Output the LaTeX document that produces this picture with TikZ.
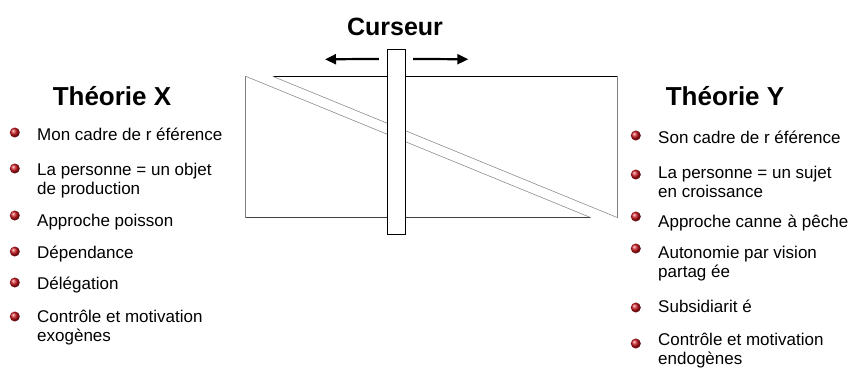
\documentclass[tikz,border=0pt]{standalone}
\usepackage{fontspec}
\setmainfont{Liberation Sans}
\definecolor{bulletred}{HTML}{c8161d}
\definecolor{framegray}{HTML}{7f7f7f}
\definecolor{diaggray}{HTML}{8c8c8c}
\usetikzlibrary{
  arrows.meta,
  positioning,
}

\begin{document}
\begin{tikzpicture}[
  x=1pt, y=-1pt,
  title/.style={font=\fontsize{26}{29}\selectfont\bfseries, inner sep=0pt},
  item/.style={font=\fontsize{17}{19}\selectfont, align=left, anchor=north west, inner sep=0pt},
  dot/.style={circle, inner sep=0pt, minimum size=10pt, shade, ball color=bulletred},
  arr/.style={-{Triangle[length=11pt, width=10pt]}, line width=2.2pt},
  side/.style={draw=framegray, line width=1pt},
  diag/.style={draw=diaggray, line width=0.6pt},
]
  \useasboundingbox (0,0) rectangle (850,367);

  % Sliding frame
  \coordinate (ltop) at (245.7,76.3);
  \coordinate (lbot) at (245.7,217.7);
  \coordinate (lend) at (591,217.7);
  \coordinate (rtop) at (272.7,76.3);
  \coordinate (rcorner) at (617.7,76.3);
  \coordinate (rbot) at (617.7,217.7);

  \draw[side] (ltop) -- (lbot);
  \draw[side, draw=black!75] (lbot) -- (lend);
  \draw[diag] (ltop) -- (lend);
  \draw[line width=1pt] (rtop) -- (rcorner);
  \draw[side] (rcorner) -- (rbot);
  \draw[diag] (rtop) -- (rbot);

  % Cursor
  \node[title, font=\fontsize{25}{28}\selectfont\bfseries] (curlabel) at (395,27) {Curseur};
  \node[draw, fill=white, line width=0.8pt, minimum width=18.4pt, minimum height=185pt, inner sep=0pt] (cursor) at (396.5,141.8) {};
  \coordinate (lhead) at (325,59.3);
  \coordinate (rhead) at (468.3,59.3);
  \draw[arr] ([xshift=-8pt, yshift=-10pt]cursor.north west) -- (lhead);
  \draw[arr] ([xshift=7pt, yshift=-10pt]cursor.north east) -- (rhead);

  % Theory X
  \node[title] (thx) at (112,96) {Théorie X};
  \node[item] (x1) at (37,127.5) {Mon cadre de r éférence};
  \node[item] (x2) at (37,162.5) {La personne = un objet\\de production};
  \node[item] (x3) at (37,213.5) {Approche poisson};
  \node[item] (x4) at (37,245.5) {Dépendance};
  \node[item] (x5) at (37,276.5) {Délégation};
  \node[item] (x6) at (37,309.5) {Contrôle et motivation\\exogènes};

  \node[dot, left=17pt of x1.north west, yshift=-5pt] (bx1) {};
  \node[dot, left=17pt of x2.north west, yshift=-6pt] (bx2) {};
  \node[dot, left=17pt of x3.north west, yshift=-2pt] (bx3) {};
  \node[dot, left=17pt of x4.north west, yshift=-6pt] (bx4) {};
  \node[dot, left=17pt of x5.north west, yshift=-6pt] (bx5) {};
  \node[dot, left=17pt of x6.north west, yshift=-7pt] (bx6) {};

  % Theory Y
  \node[title] (thy) at (725,96) {Théorie Y};
  \node[item] (y1) at (658,130.5) {Son cadre de r éférence};
  \node[item] (y2) at (658,165.5) {La personne = un sujet\\en croissance};
  \node[item] (y3) at (658,214.5) {Approche canne \hspace{1pt}à pêche};
  \node[item] (y4) at (658,245.5) {Autonomie par vision\\partag ée};
  \node[item] (y5) at (658,299.5) {Subsidiarit é};
  \node[item] (y6) at (658,332.5) {Contrôle et motivation\\endogènes};

  \node[dot, left=17pt of y1.north west, yshift=-5pt] (by1) {};
  \node[dot, left=17pt of y2.north west, yshift=-9pt] (by2) {};
  \node[dot, left=17pt of y3.north west, yshift=-2pt] (by3) {};
  \node[dot, left=17pt of y4.north west, yshift=-3pt] (by4) {};
  \node[dot, left=17pt of y5.north west, yshift=-8pt] (by5) {};
  \node[dot, left=17pt of y6.north west, yshift=-11pt] (by6) {};

\end{tikzpicture}
\end{document}
